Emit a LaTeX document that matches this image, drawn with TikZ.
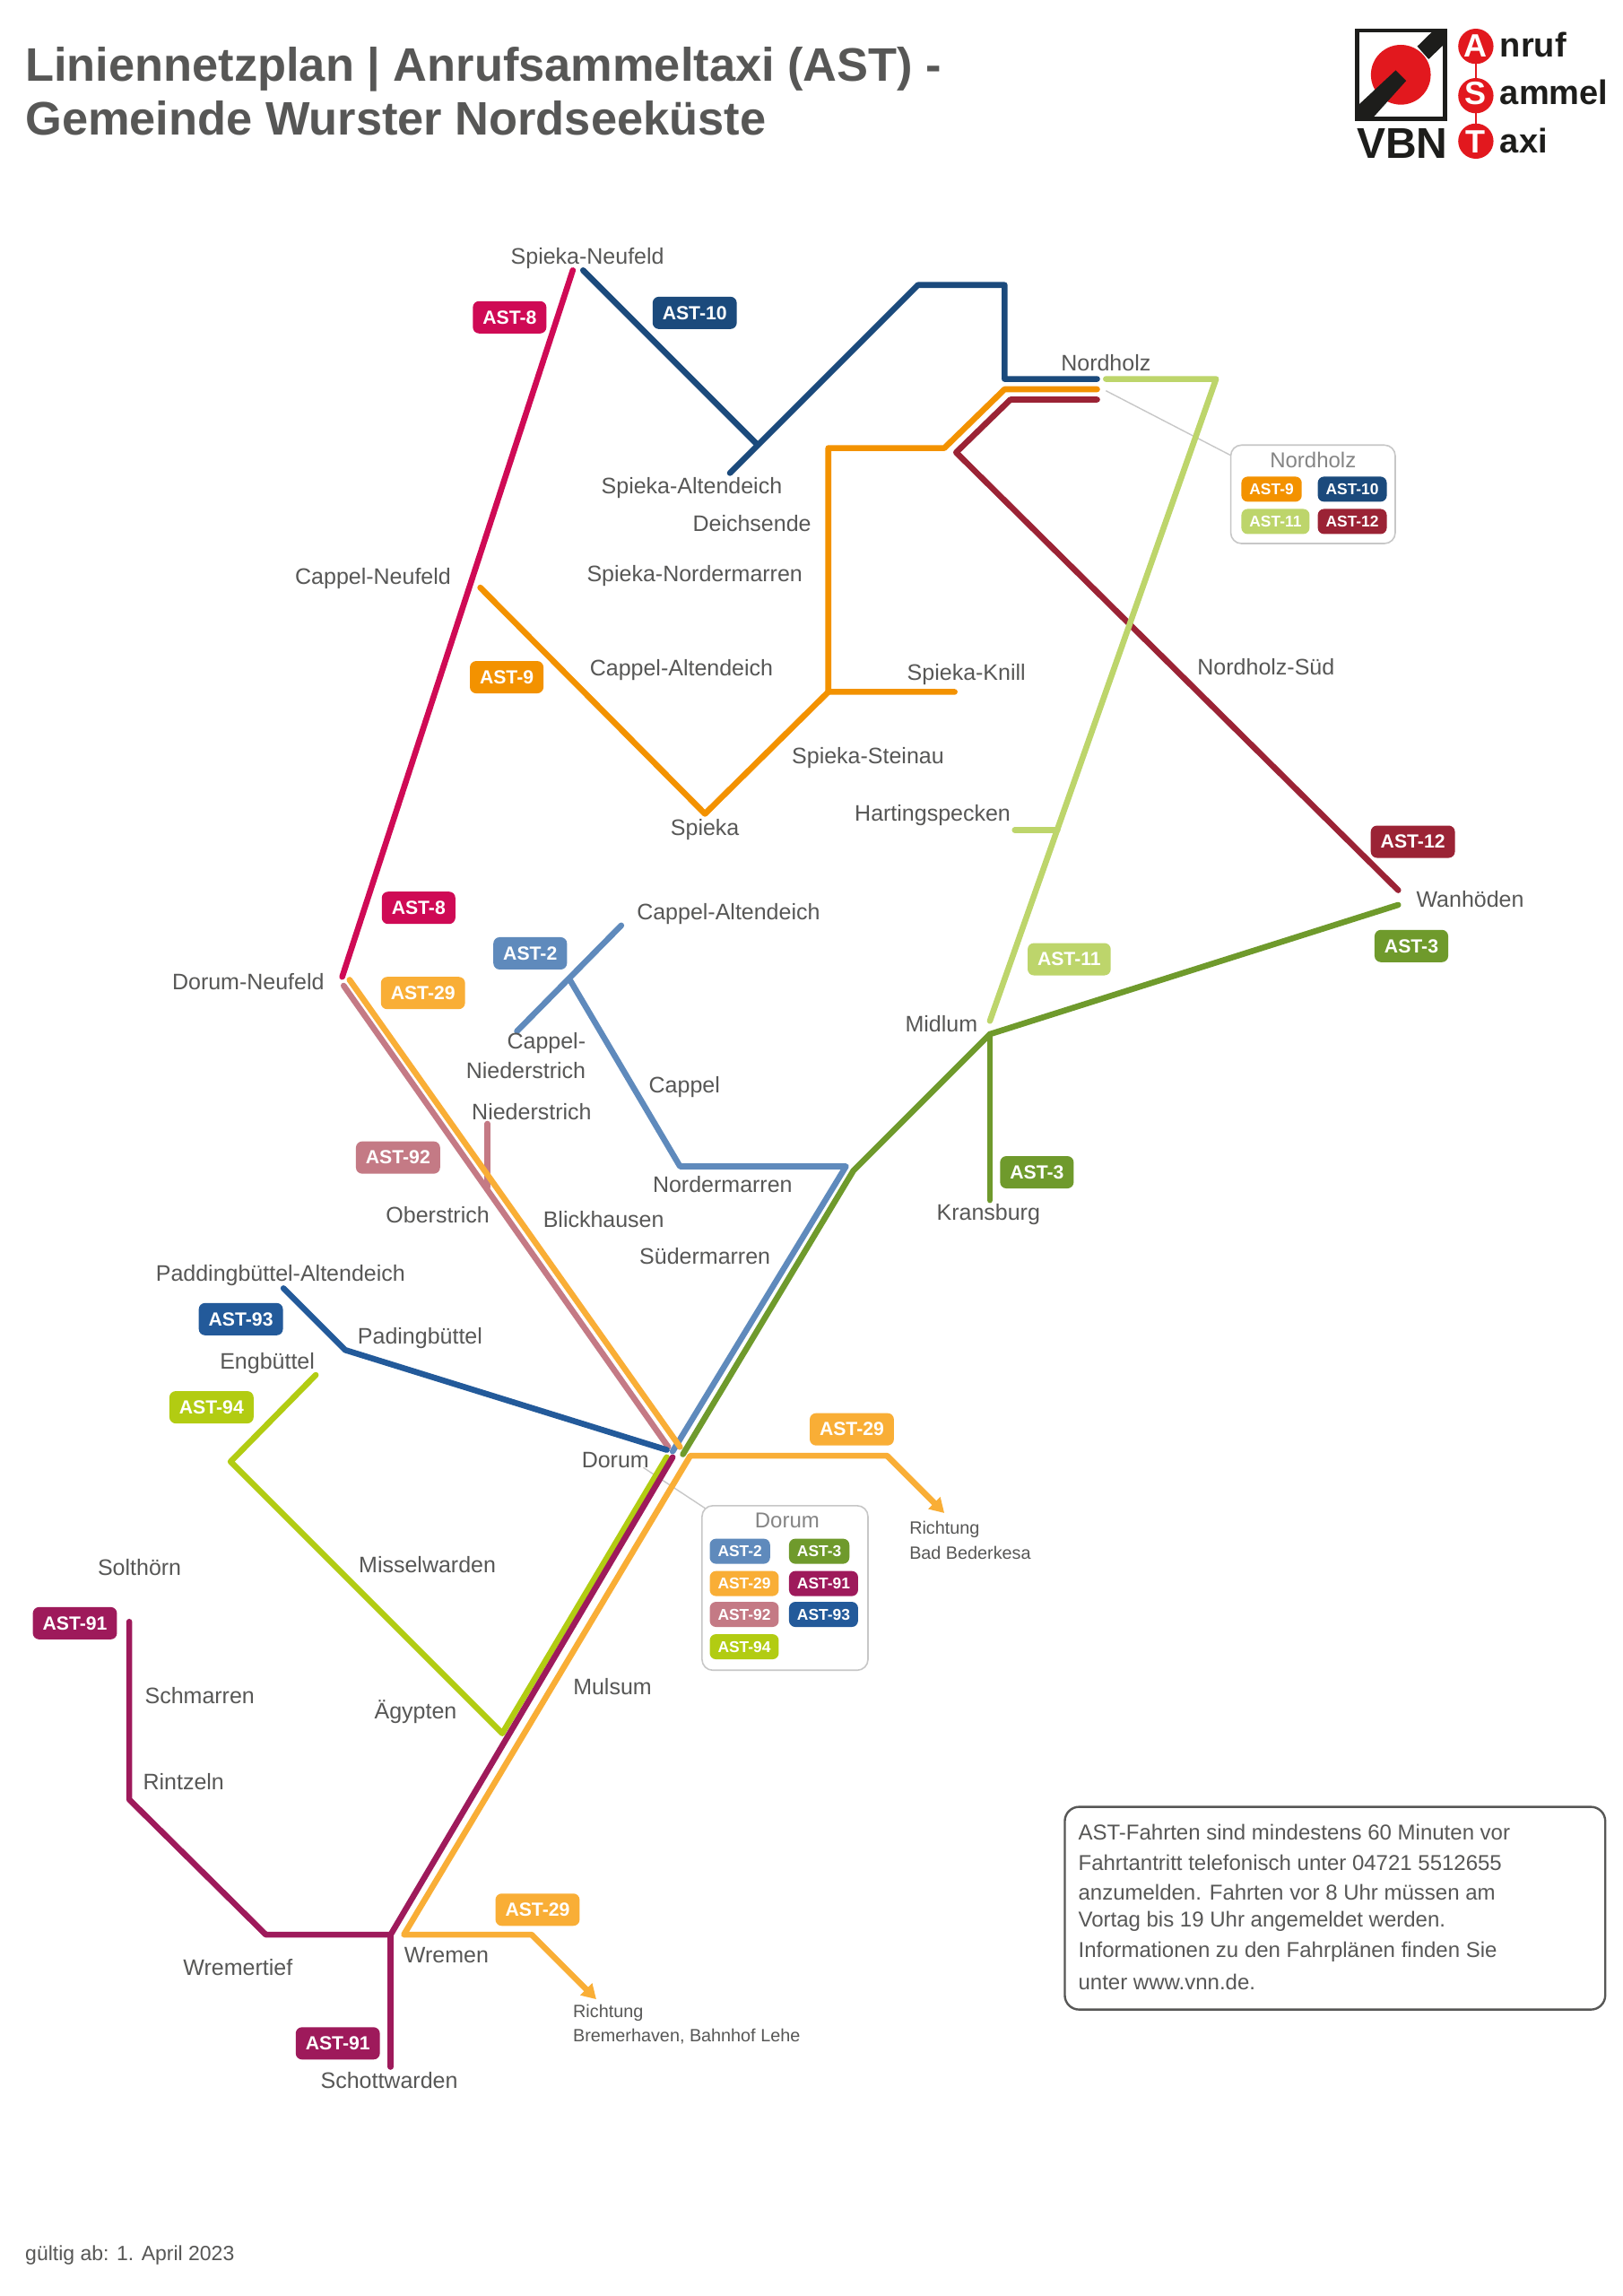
\documentclass[tikz,border=0pt]{standalone}
\usepackage{fontspec}
\setmainfont{Liberation Sans}
\usetikzlibrary{arrows.meta}
\definecolor{txt}{HTML}{575756}
\definecolor{cEight}{HTML}{CF0A55}
\definecolor{cTen}{HTML}{1B4A7C}
\definecolor{cNine}{HTML}{F39200}
\definecolor{cTwelve}{HTML}{9B2335}
\definecolor{cEleven}{HTML}{BDD56B}
\definecolor{cThree}{HTML}{6F9A2C}
\definecolor{cTwo}{HTML}{5F8ABC}
\definecolor{cTN}{HTML}{F9AE36}
\definecolor{cNTwo}{HTML}{C47A85}
\definecolor{cNThree}{HTML}{235A9A}
\definecolor{cNFour}{HTML}{B2CC12}
\definecolor{cNOne}{HTML}{9E1A5B}
\definecolor{logored}{HTML}{E2181E}
\definecolor{logoblk}{HTML}{1D1D1B}
\tikzset{
  route/.style={line width=3.3pt,line cap=round,line join=round},
  badge/.style={fill=#1,text=white,rounded corners=3.5pt,inner xsep=5.5pt,inner ysep=0pt,minimum height=18pt,font=\bfseries\fontsize{10.6}{12}\selectfont},
  mini/.style={fill=#1,text=white,anchor=west,rounded corners=3.5pt,inner xsep=4.5pt,inner ysep=0pt,minimum height=14pt,font=\bfseries\fontsize{8.7}{10}\selectfont},
  stop/.style={text=txt,inner sep=0pt,font=\fontsize{12.5}{14}\selectfont},
  smalltxt/.style={text=txt,inner sep=0pt,anchor=west,font=\fontsize{9.9}{12}\selectfont},
  legendbox/.style={draw=black!22,line width=0.8pt,rounded corners=6pt,fill=white},
  leader/.style={draw=black!22,line width=0.7pt},
  legendtitle/.style={text=black!48,inner sep=0pt,font=\fontsize{12}{14}\selectfont},
  arrowroute/.style={route,line cap=butt,-{Triangle[length=8pt,width=9pt]}},
}
\begin{document}
\begin{tikzpicture}[x=0.819pt,y=-0.819pt]
\useasboundingbox (0,0) rectangle (1105,1563);
\fill[white] (0,0) rectangle (1105,1563);
% title
\node[anchor=base west,inner sep=0pt,text=txt,font=\bfseries\fontsize{26.2}{30}\selectfont] (title1) at (17,55) {Liniennetzplan | Anrufsammeltaxi (AST) -};
\node[anchor=base west,inner sep=0pt,text=txt,font=\bfseries\fontsize{26.2}{30}\selectfont] (title2) at (17,92) {Gemeinde Wurster Nordseeküste};
% logo
\begin{scope}[shift={(885.2,0)},x=0.1667pt,y=-0.1667pt]
  \draw[logoblk,line width=2.4pt,fill=white] (191,102) rectangle (485,398);
  \fill[logored] (337,250) circle (100);
  \fill[logoblk] (191,355) -- (320,235) -- (355,270) -- (240,398) -- (191,398) -- cycle;
  \fill[logoblk] (392,155) -- (440,108) -- (485,108) -- (485,145) -- (430,198) -- cycle;
  \node[inner sep=0pt,text=logoblk,font=\bfseries\fontsize{24}{26}\selectfont] (vbn) at (342,480) {VBN};
  \draw[logored,line width=1.2pt] (588,155) -- (588,475);
  \foreach \nm/\yy/\ltr/\rest/\bl in {a/155/A/nruf/190,s/320/S/ammel/350,t/472/T/axi/510}{
    \fill[logored] (588,\yy) circle (59);
    \node[anchor=base,inner sep=0pt,text=white,font=\bfseries\fontsize{18}{20}\selectfont] (l\nm) at (588,\bl) {\ltr};
    \node[anchor=base west,inner sep=0pt,text=logoblk,font=\bfseries\fontsize{19}{20}\selectfont] (r\nm) at (668,\bl) {\rest};
  }
\end{scope}
% leaders
\draw[leader] (753,266) -- (838,310);
\draw[leader] (438,999) -- (482,1028);
% routes
\draw[route,cEight] (390,184) -- (233,665);
\draw[route,cTen] (397,184) -- (515,302);
\draw[route,cTen] (497,322) -- (625,194) -- (684,194) -- (684,258) -- (747,258);
\draw[route,cNine] (747,265) -- (684,265) -- (643,305) -- (564,305) -- (564,471) -- (650,471);
\draw[route,cNine] (564,471) -- (480,554) -- (327,400);
\draw[route,cTwelve] (747,272) -- (688,272) -- (651,308) -- (952,606);
\draw[route,cEleven] (753,258) -- (828,258) -- (674,695);
\draw[route,cEleven] (691,565) -- (720,565);
\draw[route,cThree] (952,616) -- (674,704) -- (581,797) -- (465,990);
\draw[route,cThree] (674,704) -- (674,817);
\draw[route,cTwo] (423,630) -- (352,702);
\draw[route,cTwo] (388,667) -- (463,794) -- (576,794) -- (458,988);
\draw[route,cNTwo] (234,671) -- (455,985);
\draw[route,cNTwo] (332,765) -- (332,808);
\draw[route,cTN] (238,667) -- (463,985);
\draw[route,cTN] (405,1360) ++(0,0);
\draw[route,cNThree] (193,877) -- (235,919) -- (454,987);
\draw[route,cNFour] (215,936) -- (157,995) -- (342,1180) -- (454,992);
\draw[route,cTN] (604,991) -- (470,991) -- (275,1317) -- (362,1317);
\draw[arrowroute,cTN] (604,991) -- (643,1030);
\draw[arrowroute,cTN] (362,1317) -- (406,1361);
\draw[route,cNOne] (458,992) -- (266,1317) -- (181,1317) -- (88,1225) -- (88,1104);
\draw[route,cNOne] (266,1317) -- (266,1407);
% stops
\node[stop] (s1) at (400,176) {Spieka-Neufeld};
\node[stop] (s2) at (471,332) {Spieka-Altendeich};
\node[stop] (s3) at (512,356) {Deichsende};
\node[stop] (s4) at (254,394) {Cappel-Neufeld};
\node[stop] (s5) at (473,392) {Spieka-Nordermarren};
\node[stop] (s6) at (464,456) {Cappel-Altendeich};
\node[stop] (s7) at (658,459) {Spieka-Knill};
\node[stop] (s8) at (591,516) {Spieka-Steinau};
\node[stop] (s9) at (480,565) {Spieka};
\node[stop] (s10) at (635,555) {Hartingspecken};
\node[stop] (s11) at (753,247) {Nordholz};
\node[stop] (s12) at (862,454) {Nordholz-Süd};
\node[stop] (s13) at (1001,612) {Wanhöden};
\node[stop] (s14) at (496,622) {Cappel-Altendeich};
\node[stop] (s15) at (169,668) {Dorum-Neufeld};
\node[stop] (s16) at (641,697) {Midlum};
\node[stop,anchor=east] (s17) at (399,710) {Cappel-};
\node[stop,anchor=east] (s18) at (399,729) {Niederstrich};
\node[stop] (s19) at (362,757) {Niederstrich};
\node[stop] (s20) at (466,740) {Cappel};
\node[stop] (s21) at (492,806) {Nordermarren};
\node[stop] (s22) at (298,827) {Oberstrich};
\node[stop] (s23) at (411,830) {Blickhausen};
\node[stop] (s24) at (673,827) {Kransburg};
\node[stop] (s25) at (480,855) {Südermarren};
\node[stop] (s26) at (191,868) {Paddingbüttel-Altendeich};
\node[stop] (s27) at (286,911) {Padingbüttel};
\node[stop] (s28) at (182,928) {Engbüttel};
\node[stop] (s29) at (419,994) {Dorum};
\node[stop] (s30) at (291,1065) {Misselwarden};
\node[stop] (s31) at (95,1067) {Solthörn};
\node[stop] (s32) at (136,1154) {Schmarren};
\node[stop] (s33) at (417,1148) {Mulsum};
\node[stop] (s34) at (283,1165) {Ägypten};
\node[stop] (s35) at (125,1213) {Rintzeln};
\node[stop] (s36) at (162,1339) {Wremertief};
\node[stop] (s37) at (304,1331) {Wremen};
\node[stop] (s38) at (265,1416) {Schottwarden};
\node[smalltxt] (r1) at (619,1041) {Richtung};
\node[smalltxt] (r2) at (619,1057) {Bad Bederkesa};
\node[smalltxt] (r3) at (390,1370) {Richtung};
\node[smalltxt] (r4) at (390,1386) {Bremerhaven, Bahnhof Lehe};
% badges
\node[badge=cEight] (b1) at (347,216) {AST-8};
\node[badge=cTen] (b2) at (473,213) {AST-10};
\node[badge=cNine] (b3) at (345,461) {AST-9};
\node[badge=cEight] (b4) at (285,618) {AST-8};
\node[badge=cTwo] (b5) at (361,649) {AST-2};
\node[badge=cTN] (b6) at (288,676) {AST-29};
\node[badge=cEleven] (b7) at (728,653) {AST-11};
\node[badge=cTwelve] (b8) at (962,573) {AST-12};
\node[badge=cThree] (b9) at (961,644) {AST-3};
\node[badge=cThree] (b10) at (706,798) {AST-3};
\node[badge=cNTwo] (b11) at (271,788) {AST-92};
\node[badge=cNThree] (b12) at (164,898) {AST-93};
\node[badge=cNFour] (b13) at (144,958) {AST-94};
\node[badge=cTN] (b14) at (580,973) {AST-29};
\node[badge=cNOne] (b15) at (51,1105) {AST-91};
\node[badge=cTN] (b16) at (366,1300) {AST-29};
\node[badge=cNOne] (b17) at (230,1391) {AST-91};
% legend Nordholz
\draw[legendbox] (838,303) rectangle (950,370);
\node[legendtitle] (ln) at (894,313) {Nordholz};
\node[mini=cNine] (n1) at (845,333) {AST-9};
\node[mini=cTen] (n2) at (897,333) {AST-10};
\node[mini=cEleven] (n3) at (845,355) {AST-11};
\node[mini=cTwelve] (n4) at (897,355) {AST-12};
% legend Dorum
\draw[legendbox] (478,1025) rectangle (591,1137);
\node[legendtitle] (ld) at (536,1035) {Dorum};
\node[mini=cTwo] (d1) at (483,1056) {AST-2};
\node[mini=cThree] (d2) at (537,1056) {AST-3};
\node[mini=cTN] (d3) at (483,1078) {AST-29};
\node[mini=cNOne] (d4) at (537,1078) {AST-91};
\node[mini=cNTwo] (d5) at (483,1099) {AST-92};
\node[mini=cNThree] (d6) at (537,1099) {AST-93};
\node[mini=cNFour] (d7) at (483,1121) {AST-94};
% info
\draw[draw=txt,line width=1.2pt,rounded corners=8pt,fill=white] (725,1230) rectangle (1093,1368);
\foreach \nm/\yy/\tx in {i1/1247/AST-Fahrten sind mindestens 60 Minuten vor,i2/1268/Fahrtantritt telefonisch unter 04721 5512655,i3/1288/anzumelden. Fahrten vor 8 Uhr müssen am,i4/1308/Vortag bis 19 Uhr angemeldet werden.,i5/1329/Informationen zu den Fahrplänen finden Sie,i6/1349/unter www.vnn.de.}{
  \node[stop,anchor=west,font=\fontsize{12}{14}\selectfont] (\nm) at (734,\yy) {\tx};
}
\node[stop,anchor=west,font=\fontsize{11.5}{14}\selectfont] (foot) at (17,1535) {gültig ab: 1. April 2023};
\end{tikzpicture}
\end{document}
